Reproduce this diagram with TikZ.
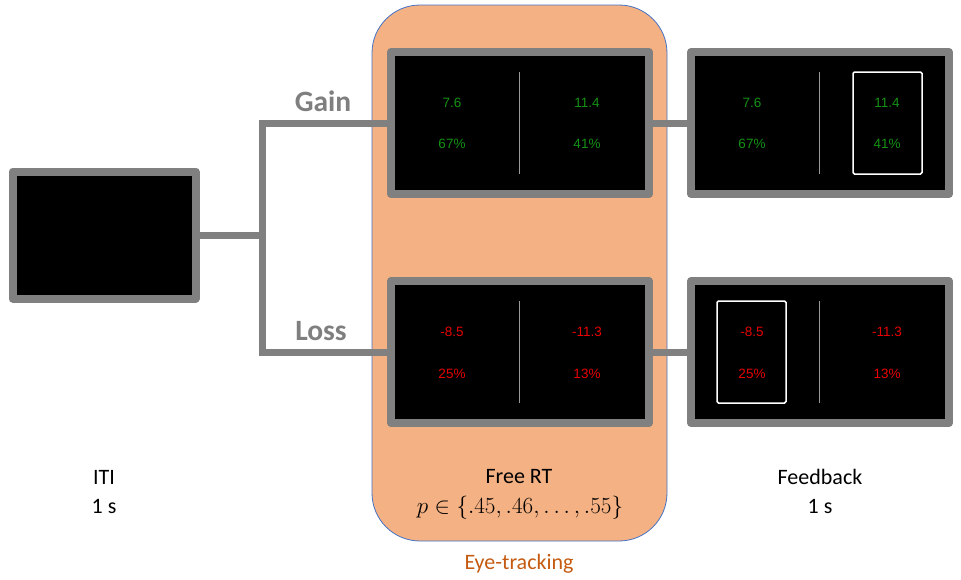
\documentclass[tikz,border=0pt]{standalone}
\usepackage{fontspec}
\setmainfont{Carlito}
\newfontfamily\arialf{Liberation Sans}
\definecolor{scrgrey}{HTML}{808080}
\definecolor{orfill}{HTML}{F4B183}
\definecolor{orline}{HTML}{4472C4}
\definecolor{eyec}{HTML}{C55A11}
\definecolor{gainc}{RGB}{20,145,20}
\definecolor{lossc}{RGB}{230,0,0}
\definecolor{labgrey}{HTML}{7F7F7F}
\definecolor{divgrey}{HTML}{9A9A9A}
\begin{document}
\begin{tikzpicture}[x=1pt,y=-1pt,
 screen/.style={draw=scrgrey, line width=8pt, fill=black, line join=round, minimum width=258pt, minimum height=142pt, inner sep=0pt},
 conn/.style={draw=scrgrey, line width=7pt},
 val/.style={font=\arialf\fontsize{13.5}{15}\selectfont, inner sep=0pt},
 gainv/.style={val, text=gainc},
 lossv/.style={val, text=lossc},
 divider/.style={draw=divgrey, line width=1pt},
 choice/.style={draw=white, line width=1.5pt, rounded corners=1.5pt, minimum width=69pt, minimum height=102pt, inner sep=0pt},
 cond/.style={font=\bfseries\fontsize{29.5}{33}\selectfont, text=labgrey, inner sep=0pt},
 caption/.style={font=\fontsize{22}{26}\selectfont, anchor=base, inner sep=0pt},
]
\useasboundingbox (0,0) rectangle (961,579);

% eye-tracking region
\node[draw=orline, fill=orfill, line width=0.8pt, rounded corners=48pt, minimum width=295pt, minimum height=536pt, inner sep=0pt] (eye) at (519.5,273) {};

% coordinates for the branching connector
\coordinate (jt) at (262,123);
\coordinate (jb) at (262,352);
\coordinate (jm) at (262,235);

% screens
\node[screen, minimum width=183pt, minimum height=127pt] (iti) at (104,235) {};
\node[screen] (gs) at (520,123) {};
\node[screen] (ls) at (520,352) {};
\node[screen] (gf) at (820,123) {};
\node[screen] (lf) at (820,352) {};

% connectors
\draw[conn] (iti.east) -- (jm);
\draw[conn, line join=miter] (gs.west) -- (jt) -- (jb) -- (ls.west);
\draw[conn] (gs.east) -- (gf.west);
\draw[conn] (ls.east) -- (lf.west);

% dividers
\foreach \s in {gs,ls,gf,lf}{
  \draw[divider] ([xshift=-1pt,yshift=-51pt]\s.center) -- ([xshift=-1pt,yshift=51pt]\s.center);
}

% choice highlights
\node[choice] (gch) at (887.5,123) {};
\node[choice] (lch) at (751.5,352) {};

% values (yshift is in page direction: positive = up)
% gain stimulus
\node[gainv] (g1a) at ([xshift=-68pt,yshift=20pt]gs.center) {7.6};
\node[gainv] (g1b) at ([xshift=-68pt,yshift=-21pt]gs.center) {67\%};
\node[gainv] (g1c) at ([xshift=67pt,yshift=20pt]gs.center) {11.4};
\node[gainv] (g1d) at ([xshift=67pt,yshift=-21pt]gs.center) {41\%};
% gain feedback
\node[gainv] (g2a) at ([xshift=-68pt,yshift=20pt]gf.center) {7.6};
\node[gainv] (g2b) at ([xshift=-68pt,yshift=-21pt]gf.center) {67\%};
\node[gainv] (g2c) at ([xshift=67pt,yshift=20pt]gf.center) {11.4};
\node[gainv] (g2d) at ([xshift=67pt,yshift=-21pt]gf.center) {41\%};
% loss stimulus
\node[lossv] (l1a) at ([xshift=-68pt,yshift=20pt]ls.center) {-8.5};
\node[lossv] (l1b) at ([xshift=-68pt,yshift=-22pt]ls.center) {25\%};
\node[lossv] (l1c) at ([xshift=67pt,yshift=20pt]ls.center) {-11.3};
\node[lossv] (l1d) at ([xshift=67pt,yshift=-22pt]ls.center) {13\%};
% loss feedback
\node[lossv] (l2a) at ([xshift=-68pt,yshift=20pt]lf.center) {-8.5};
\node[lossv] (l2b) at ([xshift=-68pt,yshift=-22pt]lf.center) {25\%};
\node[lossv] (l2c) at ([xshift=67pt,yshift=20pt]lf.center) {-11.3};
\node[lossv] (l2d) at ([xshift=67pt,yshift=-22pt]lf.center) {13\%};

% condition labels
\node[cond] (gainlab) at (323,101) {Gain};
\node[cond] (losslab) at (321,331) {Loss};

% captions
\node[caption] (c1a) at (104,484) {ITI};
\node[caption] (c1b) at (104,513) {1 s};
\node[caption] (c2a) at (519,483) {Free RT};
\node[caption, font=\fontsize{24.88}{28}\selectfont] (c2b) at (520,513) {\scalebox{0.93}{$p \in \{.45, .46, \ldots, .55\}$}};
\node[caption] (c3a) at (820,484) {Feedback};
\node[caption] (c3b) at (820,513) {1 s};
\node[caption, text=eyec] (c4) at (519,569) {Eye-tracking};
\end{tikzpicture}
\end{document}
